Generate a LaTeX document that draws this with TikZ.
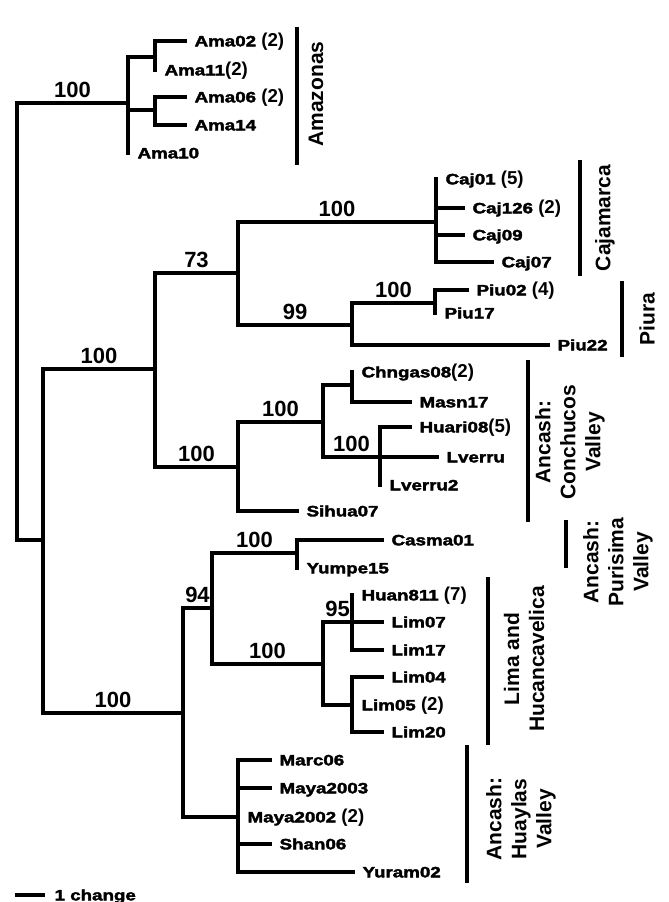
\documentclass[tikz,border=0pt]{standalone}
\usepackage{fontspec}
\setmainfont{Liberation Sans}
\newfontfamily\leaffont[FakeStretch=1.25,FakeBold=2.5]{Liberation Sans Bold}
\newfontfamily\labfont{Liberation Sans Bold}
\newcommand{\hapcount}[1]{{\labfont\fontsize{14}{14}\selectfont #1}}
\usetikzlibrary{positioning}

\begin{document}
\begin{tikzpicture}[
    x=0.75pt, y=-0.75pt,
    branch/.style={line width=2.4pt, line cap=rect},
    bar/.style={line width=3pt},
    leaf/.style={anchor=base west, inner sep=0pt, xshift=7pt, yshift=-4pt, font=\leaffont\fontsize{11.25}{12}\selectfont},
    bs/.style={above, inner sep=2.5pt, font=\labfont\fontsize{16.5}{18}\selectfont},
    clade/.style={rotate=90, align=center, inner sep=0pt, font=\labfont\fontsize{15.75}{18.75}\selectfont}
]
\useasboundingbox (0,0) rectangle (668,902);

% Root and Amazonas
\coordinate (r0) at (17,540);
\coordinate (ama) at (128,103);
\coordinate (amaA) at (155,57);
\coordinate (amaB) at (155,110);
\coordinate (tAma02) at (185,41);
\coordinate (tAma11) at (155,70);
\coordinate (tAma06) at (185,97);
\coordinate (tAma14) at (185,125);
\coordinate (tAma10) at (128,153);

% Cajamarca, Piura, Conchucos
\coordinate (n1) at (43,540);
\coordinate (n2) at (155,369);
\coordinate (n3) at (238,273);
\coordinate (caj) at (436,222);
\coordinate (tCaj01) at (436,179);
\coordinate (tCaj126) at (463,208);
\coordinate (tCaj09) at (463,235);
\coordinate (tCaj07) at (492,262);
\coordinate (n4) at (352,325);
\coordinate (piu) at (435,303);
\coordinate (tPiu02) at (467,290);
\coordinate (tPiu17) at (435,313);
\coordinate (tPiu22) at (548,345);
\coordinate (n7) at (238,467);
\coordinate (n8) at (323,422);
\coordinate (n9) at (352,385);
\coordinate (tChngas08) at (352,372);
\coordinate (tMasn17) at (410,402);
\coordinate (n10) at (380,457);
\coordinate (tHuari08) at (410,427);
\coordinate (tLverru) at (437,457);
\coordinate (tLverru2) at (380,485);
\coordinate (tSihua07) at (297,511);

% Purisima, Lima, Huaylas
\coordinate (n11) at (183,713);
\coordinate (n12) at (212,608);
\coordinate (n13) at (297,553);
\coordinate (tCasma01) at (382,540);
\coordinate (tYumpe15) at (297,568);
\coordinate (n14) at (323,664);
\coordinate (n14a) at (352,622);
\coordinate (tHuan811) at (352,595);
\coordinate (tLim07) at (382,622);
\coordinate (tLim17) at (382,650);
\coordinate (n14b) at (352,705);
\coordinate (tLim04) at (382,677);
\coordinate (tLim05) at (352,705);
\coordinate (tLim20) at (382,732);
\coordinate (n15) at (238,817);
\coordinate (tMarc06) at (270,760);
\coordinate (tMaya2003) at (270,788);
\coordinate (tMaya2002) at (238,817);
\coordinate (tShan06) at (270,844);
\coordinate (tYuram02) at (353,872);

% Branches
\draw[branch] (r0) |- node[bs, pos=0.75] {100} (ama);
\draw[branch] (r0) |- (n1);
\draw[branch] (ama) |- (amaA);
\draw[branch] (ama) |- (amaB);
\draw[branch] (ama) |- (tAma10);
\draw[branch] (amaA) |- (tAma02);
\draw[branch] (amaA) |- (tAma11);
\draw[branch] (amaB) |- (tAma06);
\draw[branch] (amaB) |- (tAma14);

\draw[branch] (n1) |- node[bs, pos=0.75] {100} (n2);
\draw[branch] (n2) |- node[bs, pos=0.75] {73} (n3);
\draw[branch] (n3) |- node[bs, pos=0.75] {100} (caj);
\draw[branch] (caj) |- (tCaj01);
\draw[branch] (caj) |- (tCaj126);
\draw[branch] (caj) |- (tCaj09);
\draw[branch] (caj) |- (tCaj07);
\draw[branch] (n3) |- node[bs, pos=0.75] {99} (n4);
\draw[branch] (n4) |- node[bs, pos=0.75] {100} (piu);
\draw[branch] (n4) |- (tPiu22);
\draw[branch] (piu) |- (tPiu02);
\draw[branch] (piu) |- (tPiu17);
\draw[branch] (n2) |- node[bs, pos=0.75] {100} (n7);
\draw[branch] (n7) |- node[bs, pos=0.75] {100} (n8);
\draw[branch] (n7) |- (tSihua07);
\draw[branch] (n8) |- (n9);
\draw[branch] (n8) |- node[bs, pos=0.75] {100} (n10);
\draw[branch] (n9) |- (tChngas08);
\draw[branch] (n9) |- (tMasn17);
\draw[branch] (n10) |- (tHuari08);
\draw[branch] (n10) |- (tLverru);
\draw[branch] (n10) |- (tLverru2);

\draw[branch] (n1) |- node[bs, pos=0.75] {100} (n11);
\draw[branch] (n11) |- node[bs, pos=0.75] {94} (n12);
\draw[branch] (n12) |- node[bs, pos=0.75] {100} (n13);
\draw[branch] (n13) |- (tCasma01);
\draw[branch] (n13) |- (tYumpe15);
\draw[branch] (n12) |- node[bs, pos=0.75] {100} (n14);
\draw[branch] (n14) |- node[bs, pos=0.75] {95} (n14a);
\draw[branch] (n14) |- (n14b);
\draw[branch] (n14a) |- (tHuan811);
\draw[branch] (n14a) |- (tLim07);
\draw[branch] (n14a) |- (tLim17);
\draw[branch] (n14b) |- (tLim04);
\draw[branch] (n14b) |- (tLim05);
\draw[branch] (n14b) |- (tLim20);
\draw[branch] (n11) |- (n15);
\draw[branch] (n15) |- (tMarc06);
\draw[branch] (n15) |- (tMaya2003);
\draw[branch] (n15) |- (tMaya2002);
\draw[branch] (n15) |- (tShan06);
\draw[branch] (n15) |- (tYuram02);

% Leaf labels
\node[leaf] (lAma02) at (tAma02) {Ama02 \hapcount{(2)}};
\node[leaf] (lAma11) at (tAma11) {Ama11\hapcount{(2)}};
\node[leaf] (lAma06) at (tAma06) {Ama06 \hapcount{(2)}};
\node[leaf] (lAma14) at (tAma14) {Ama14};
\node[leaf] (lAma10) at (tAma10) {Ama10};
\node[leaf] (lCaj01) at (tCaj01) {Caj01 \hapcount{(5)}};
\node[leaf] (lCaj126) at (tCaj126) {Caj126 \hapcount{(2)}};
\node[leaf] (lCaj09) at (tCaj09) {Caj09};
\node[leaf] (lCaj07) at (tCaj07) {Caj07};
\node[leaf] (lPiu02) at (tPiu02) {Piu02 \hapcount{(4)}};
\node[leaf] (lPiu17) at (tPiu17) {Piu17};
\node[leaf] (lPiu22) at (tPiu22) {Piu22};
\node[leaf] (lChngas08) at (tChngas08) {Chngas08\hapcount{(2)}};
\node[leaf] (lMasn17) at (tMasn17) {Masn17};
\node[leaf] (lHuari08) at (tHuari08) {Huari08\hapcount{(5)}};
\node[leaf] (lLverru) at (tLverru) {Lverru};
\node[leaf] (lLverru2) at (tLverru2) {Lverru2};
\node[leaf] (lSihua07) at (tSihua07) {Sihua07};
\node[leaf] (lCasma01) at (tCasma01) {Casma01};
\node[leaf] (lYumpe15) at (tYumpe15) {Yumpe15};
\node[leaf] (lHuan811) at (tHuan811) {Huan811 \hapcount{(7)}};
\node[leaf] (lLim07) at (tLim07) {Lim07};
\node[leaf] (lLim17) at (tLim17) {Lim17};
\node[leaf] (lLim04) at (tLim04) {Lim04};
\node[leaf] (lLim05) at (tLim05) {Lim05 \hapcount{(2)}};
\node[leaf] (lLim20) at (tLim20) {Lim20};
\node[leaf] (lMarc06) at (tMarc06) {Marc06};
\node[leaf] (lMaya2003) at (tMaya2003) {Maya2003};
\node[leaf] (lMaya2002) at (tMaya2002) {Maya2002 \hapcount{(2)}};
\node[leaf] (lShan06) at (tShan06) {Shan06};
\node[leaf] (lYuram02) at (tYuram02) {Yuram02};

% Clade bars and labels
\coordinate (amaTop) at (297,27);   \coordinate (amaBot) at (297,165);
\coordinate (cajTop) at (580,160);  \coordinate (cajBot) at (580,276);
\coordinate (piuTop) at (622,281);  \coordinate (piuBot) at (622,357);
\coordinate (conTop) at (528,360);  \coordinate (conBot) at (528,522);
\coordinate (purTop) at (566,520);  \coordinate (purBot) at (566,568);
\coordinate (limTop) at (488,577);  \coordinate (limBot) at (488,745);
\coordinate (huaTop) at (467,745);  \coordinate (huaBot) at (467,883);
\draw[bar] (amaTop) -- (amaBot);
\draw[bar] (cajTop) -- (cajBot);
\draw[bar] (piuTop) -- (piuBot);
\draw[bar] (conTop) -- (conBot);
\draw[bar] (purTop) -- (purBot);
\draw[bar] (limTop) -- (limBot);
\draw[bar] (huaTop) -- (huaBot);
\node[clade] (cAma) at (316,94) {Amazonas};
\node[clade] (cCaj) at (605,218) {Cajamarca};
\node[clade] (cPiu) at (647,319) {Piura};
\node[clade] (cCon) at (570,442) {Ancash:\\Conchucos\\Valley};
\node[clade] (cPur) at (618,562) {Ancash:\\Purisima\\Valley};
\node[clade] (cLim) at (524,659) {Lima and\\Hucancavelica};
\node[clade] (cHua) at (521,819) {Ancash:\\Huaylas\\Valley};

% Scale bar
\coordinate (sb0) at (15,895);
\coordinate (sb1) at (45,895);
\draw[branch, line cap=butt] (sb0) -- (sb1);
\node[leaf] (sbl) at (sb1) {1 change};

\end{tikzpicture}
\end{document}
